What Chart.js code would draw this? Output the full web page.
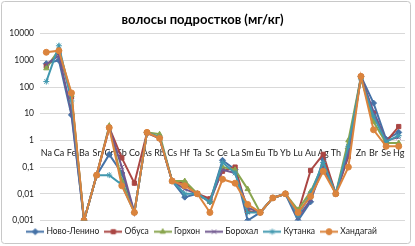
<!DOCTYPE html>
<html>
<head>
<meta charset="utf-8">
<script src="https://cdn.jsdelivr.net/npm/chart.js@4"></script>
<style>
body{margin:0;background:#fff;}
</style>
</head>
<body>
<canvas id="myChart" width="415" height="246"></canvas>
<script>
// elements along the x axis
const elements = ['Na','Ca','Fe','Ba','Sr','Cr','Sb','Co','As','Rb','Cs','Hf','Ta','Sc','Ce','La','Sm','Eu','Tb','Yb','Lu','Au','Ag','Th','U','Zn','Br','Se','Hg'];

// mg/kg
const novoLenino = [750,1000,9,0.001,0.05,0.3,0.06,0.002,2,1.3,0.03,0.0075,0.01,0.005,0.18,0.08,0.001,0.002,0.007,0.01,0.001,0.005,0.2,0.01,0.5,250,25,1.1,2];
const obusa      = [600,2000,43,0.001,0.05,3,0.22,0.025,1.9,1.2,0.03,0.025,0.01,0.0065,0.07,0.1,0.0022,0.002,0.007,0.01,0.002,0.075,0.3,0.01,0.25,250,10,0.9,3.3];
const gorhon     = [500,2500,50,0.001,0.05,3.5,0.03,0.002,2,1.7,0.03,0.03,0.01,0.005,0.1,0.08,0.015,0.002,0.007,0.01,0.0025,0.012,0.12,0.01,1,230,5,0.8,0.8];
const borohal    = [700,1500,12,0.001,0.05,3,0.1,0.002,2,1.2,0.03,0.015,0.01,0.005,0.08,0.06,0.003,0.002,0.007,0.01,0.0013,0.006,0.1,0.01,0.3,220,12,1,1.3];
const kutanka    = [160,3500,30,0.001,0.05,0.05,0.022,0.002,2,1.3,0.03,0.01,0.01,0.005,0.15,0.06,0.002,0.002,0.007,0.01,0.0015,0.01,0.15,0.01,0.6,200,8,0.9,1.5];
const handagai   = [2000,2300,60,0.001,0.05,3,0.02,0.002,2,1.2,0.03,0.02,0.01,0.002,0.035,0.025,0.004,0.002,0.007,0.01,0.002,0.008,0.07,0.01,0.1,250,2.5,0.6,0.6];

const yTicks = [0.001,0.01,0.1,1,10,100,1000,10000];

const seriesNames = ['Ново-Ленино','Обуса','Горхон','Борохал','Кутанка','Хандагай'];
const seriesData = [novoLenino, obusa, gorhon, borohal, kutanka, handagai];
const colors = ['#4572A7','#AA4643','#89A54E','#71588F','#4198AF','#DB843D'];
const markers = ['rectRot','rect','triangle','crossRot','star','circle'];

const FONT = 'Lato, "Liberation Sans", sans-serif';

function legendSymbol(color, style){
    const c = document.createElement('canvas');
    c.width = 18; c.height = 9;
    const ctx = c.getContext('2d');
    ctx.strokeStyle = color;
    ctx.lineWidth = 2;
    ctx.beginPath(); ctx.moveTo(0, 4.5); ctx.lineTo(18, 4.5); ctx.stroke();
    ctx.fillStyle = color;
    ctx.lineWidth = 1;
    Chart.helpers.drawPoint(ctx, {pointStyle: style, radius: 3, borderWidth: 1, rotation: 0}, 9, 4.5);
    return c;
}

const chartBorder = {
    id: 'chartBorder',
    beforeDraw(chart){
        const ctx = chart.ctx;
        ctx.save();
        ctx.fillStyle = '#fff';
        ctx.fillRect(0, 0, chart.width, chart.height);
        ctx.strokeStyle = '#c8c8c8';
        ctx.lineWidth = 1;
        ctx.beginPath();
        ctx.roundRect(1.5, 1.5, 409, 242, 3);
        ctx.stroke();
        ctx.restore();
    }
};

const datasets = seriesNames.map((name, i) => ({
    label: name,
    data: seriesData[i],
    borderColor: colors[i],
    backgroundColor: colors[i],
    borderWidth: 2,
    pointStyle: markers[i],
    pointRadius: 3,
    pointBorderWidth: 1,
    pointBackgroundColor: colors[i],
    pointBorderColor: colors[i],
    tension: 0,
    order: seriesNames.length - i
}));

const config = {
    type: 'line',
    data: { labels: elements, datasets: datasets },
    plugins: [chartBorder],
    options: {
        responsive: false,
        animation: false,
        layout: { padding: { left: 0, right: 10, top: 0, bottom: 0 } },
        plugins: {
            title: {
                display: true,
                text: 'волосы подростков (мг/кг)',
                color: '#000',
                font: { family: FONT, size: 13, weight: 'bold' },
                padding: { top: 12, bottom: 6 }
            },
            legend: {
                position: 'bottom',
                labels: {
                    usePointStyle: true,
                    pointStyleWidth: 14,
                    boxHeight: 8,
                    padding: 7,
                    color: '#222',
                    font: { family: FONT, size: 8.5 },
                    sort: (a, b) => a.datasetIndex - b.datasetIndex,
                    generateLabels(chart){
                        const items = Chart.defaults.plugins.legend.labels.generateLabels(chart);
                        items.forEach(it => { it.pointStyle = legendSymbol(colors[it.datasetIndex], markers[it.datasetIndex]); });
                        return items;
                    }
                }
            },
            tooltip: { enabled: false }
        },
        scales: {
            x: {
                position: { y: 1 },
                offset: true,
                grid: { display: false, drawTicks: false },
                border: { display: false },
                ticks: {
                    autoSkip: false,
                    maxRotation: 0,
                    padding: 7,
                    color: '#222',
                    font: { family: FONT, size: 9 }
                }
            },
            y: {
                type: 'logarithmic',
                min: 0.001,
                max: 10000,
                afterBuildTicks(scale){ scale.ticks = yTicks.map(v => ({ value: v })); },
                afterFit(scale){ scale.width = 40; },
                grid: { color: '#d9d9d9', drawTicks: false },
                border: { display: false },
                ticks: {
                    padding: 6,
                    color: '#222',
                    font: { family: FONT, size: 8.5 },
                    callback: v => v >= 1 ? String(v) : String(v).replace('.', ',')
                }
            }
        }
    }
};

const myChart = new Chart(document.getElementById('myChart'), config);
</script>
</body>
</html>
